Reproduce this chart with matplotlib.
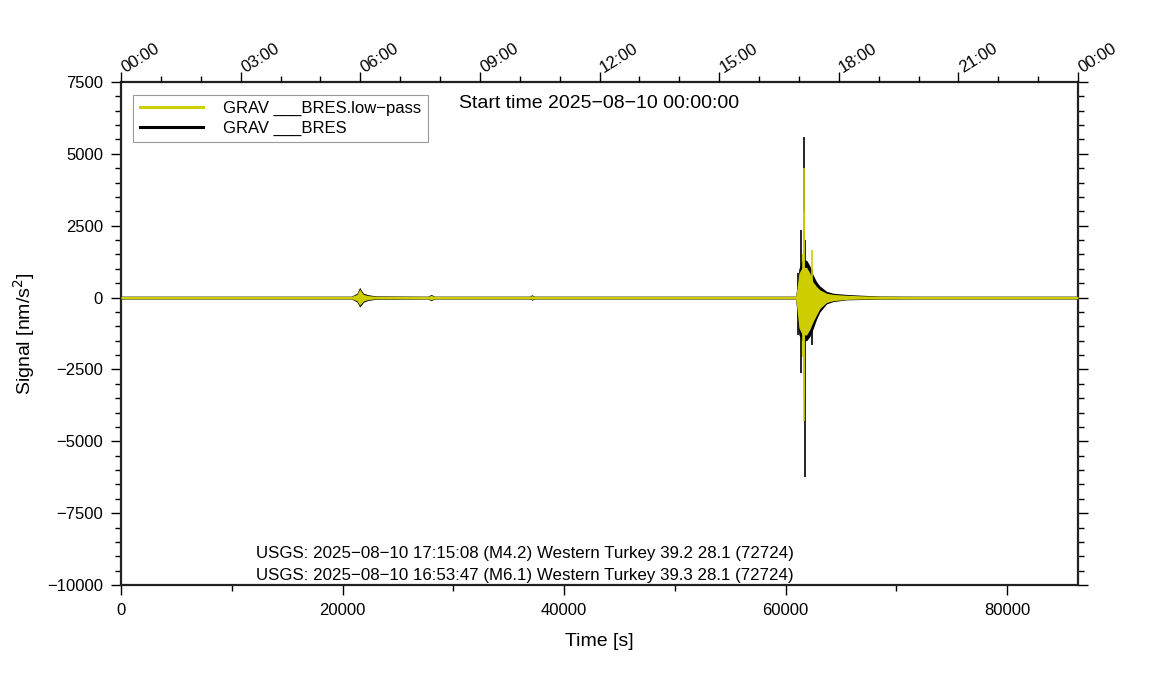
import matplotlib
matplotlib.use('Agg')
import matplotlib.pyplot as plt
import matplotlib.transforms as mtransforms
from matplotlib.ticker import MultipleLocator, FuncFormatter

plt.rcParams['font.family'] = ['Liberation Sans', 'DejaVu Sans']

yellow = '#cdcd00'

# envelope of the dense signal (time in s, nm/s^2)
t_env = [0, 20800, 21300, 21550, 21700, 21900, 22300, 23000, 27700, 28000, 28300,
         36900, 37100, 37300, 60900, 61000, 61200, 61500, 61900, 62200, 62470,
         62800, 63100, 63700, 64300, 65500, 67000, 68500, 72000, 86400]
raw_hi = [50, 50, 150, 360, 250, 150, 100, 60, 50, 110, 50,
          50, 100, 50, 50, 300, 1000, 1300, 1300, 1100, 800,
          550, 400, 220, 150, 110, 80, 55, 50, 50]
raw_lo = [-50, -50, -150, -330, -260, -160, -100, -60, -50, -110, -50,
          -50, -90, -50, -50, -400, -1300, -1500, -1500, -1350, -1100,
          -750, -500, -220, -140, -80, -65, -55, -50, -50]
low_hi = [40, 40, 110, 300, 200, 110, 70, 45, 40, 80, 40,
          40, 70, 40, 40, 250, 850, 1050, 1050, 850, 550,
          380, 270, 150, 110, 80, 60, 45, 40, 40]
low_lo = [-40, -40, -110, -270, -200, -120, -70, -45, -40, -80, -40,
          -40, -60, -40, -40, -300, -1050, -1300, -1300, -1100, -850,
          -600, -380, -170, -110, -65, -50, -45, -40, -40]

# single large swings
raw_spike_t = [61120, 61360, 61660, 61750, 62380]
raw_spike_lo = [-1300, -2630, -3000, -6240, -1650]
raw_spike_hi = [850, 2350, 5600, 2000, 1000]
low_spike_t = [61545, 61660, 61700, 62380]
low_spike_lo = [-2070, -4300, -3500, -900]
low_spike_hi = [1500, 4500, 3000, 1650]

events = ['USGS: 2025\u221208\u221210 17:15:08 (M4.2) Western Turkey 39.2 28.1 (72724)',
          'USGS: 2025\u221208\u221210 16:53:47 (M6.1) Western Turkey 39.3 28.1 (72724)']

fig = plt.figure(figsize=(11.51, 7), dpi=100)
ax = fig.add_axes([121/1151, 1 - 585/700, 957/1151, 503/700])

ax.fill_between(t_env, raw_lo, raw_hi, color='black', lw=0, zorder=2)
ax.vlines(raw_spike_t, raw_spike_lo, raw_spike_hi, color='black', lw=1.2, zorder=2)
ax.fill_between(t_env, low_lo, low_hi, color=yellow, lw=0, zorder=3)
ax.vlines(low_spike_t, low_spike_lo, low_spike_hi, color=yellow, lw=1.2, zorder=3)

l1, = ax.plot([], [], color=yellow, lw=2.2, label='GRAV ___BRES.low\u2212pass')
l2, = ax.plot([], [], color='black', lw=2.2, label='GRAV ___BRES')
leg = ax.legend(handles=[l1, l2], loc='upper left', bbox_to_anchor=(0.013, 0.975),
                fontsize=12, fancybox=False, framealpha=1, edgecolor='#999999',
                handlelength=3.8, handletextpad=1.2, borderpad=0.4, labelspacing=0.25,
                borderaxespad=0)
leg.get_frame().set_linewidth(0.8)

ax.set_xlim(0, 86400)
ax.set_ylim(-10000, 7500)
ax.xaxis.set_major_locator(MultipleLocator(20000))
ax.xaxis.set_minor_locator(MultipleLocator(10000))
ax.yaxis.set_major_locator(MultipleLocator(2500))
ax.yaxis.set_minor_locator(MultipleLocator(500))
ax.tick_params(which='both', direction='out', width=1.0, labelsize=12, pad=6,
               right=True)
ax.tick_params(which='major', length=7)
ax.tick_params(which='minor', length=4)
for s in ax.spines.values():
    s.set_linewidth(1.6)
    s.set_color('#222222')

ax.set_xlabel('Time [s]', fontsize=14, labelpad=11)
ax.set_ylabel('Signal [nm/s$^2$]', fontsize=14, labelpad=7)

top = ax.twiny()
top.set_xlim(0, 86400)
top.xaxis.set_major_locator(MultipleLocator(10800))
top.xaxis.set_minor_locator(MultipleLocator(3600))
top.xaxis.set_major_formatter(FuncFormatter(
    lambda v, p: '%02d:%02d' % ((int(v) // 3600) % 24, (int(v) % 3600) // 60)))
top.tick_params(which='both', direction='out', width=1.0, labelsize=12, pad=3)
top.tick_params(which='major', length=7)
top.tick_params(which='minor', length=4)
shift = mtransforms.ScaledTranslation(6/100, -7/100, fig.dpi_scale_trans)
for lab in top.get_xticklabels():
    lab.set_rotation(32)
    lab.set_ha('left')
    lab.set_va('bottom')
    lab.set_rotation_mode('anchor')
    lab.set_transform(lab.get_transform() + shift)
for s in top.spines.values():
    s.set_visible(False)

ax.text(0.5, 0.957, 'Start time 2025\u221208\u221210 00:00:00', transform=ax.transAxes,
        ha='center', va='center', fontsize=14)
ax.text(0.422, 0.062, events[0], transform=ax.transAxes, ha='center', va='center', fontsize=12.2)
ax.text(0.422, 0.019, events[1], transform=ax.transAxes, ha='center', va='center', fontsize=12.2)

fig.savefig('out.png', dpi=100)
